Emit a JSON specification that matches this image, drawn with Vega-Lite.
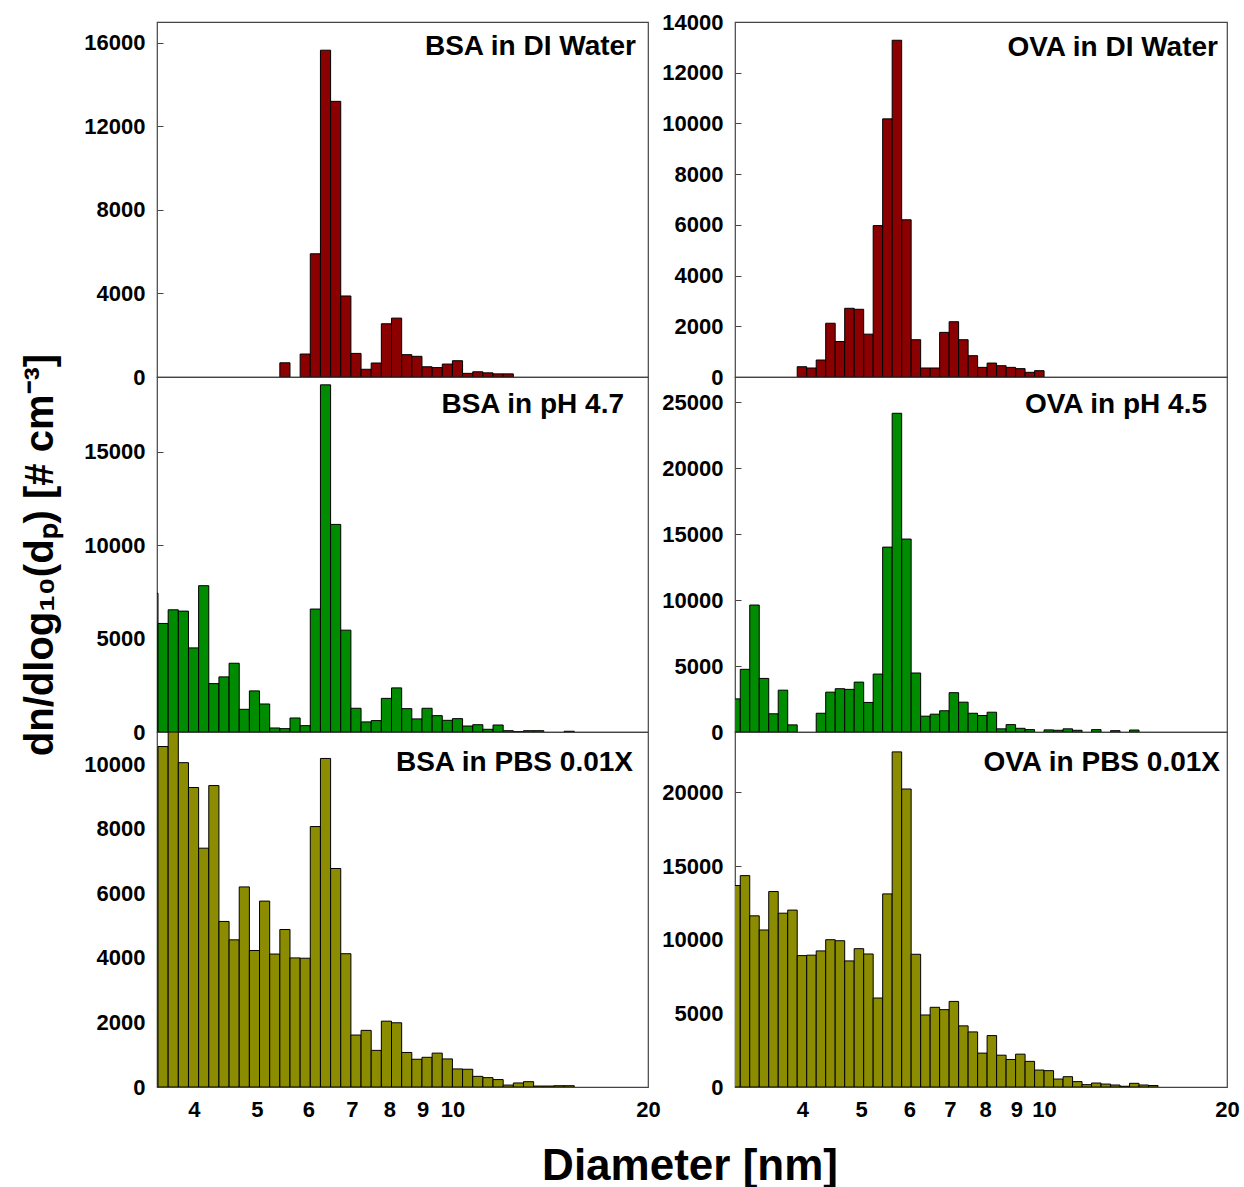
{
  "$schema": "https://vega.github.io/schema/vega-lite/v6.json",
  "background": "white",
  "padding": {"left": 20, "top": 10, "right": 5, "bottom": 5},
  "config": {
    "font": "Liberation Sans",
    "view": {"stroke": "#444444", "strokeWidth": 1.2},
    "axis": {"labelFont": "Liberation Sans", "labelFontWeight": "bold", "labelFontSize": 22, "labelColor": "black", "grid": false, "domain": false, "tickColor": "#444444", "titleFont": "Liberation Sans", "titleColor": "black"},
    "text": {"font": "Liberation Sans", "fontWeight": "bold", "fontSize": 28, "color": "black"}
  },
  "title": {"text": "Diameter [nm]", "orient": "bottom", "anchor": "middle", "fontSize": 44, "fontWeight": "bold", "font": "Liberation Sans", "color": "black", "offset": 24, "dx": 60},
  "datasets": {
    "d": [
      {"p":"bsa_di","lo":5.4247,"hi":5.6234,"v":680},
      {"p":"bsa_di","lo":5.8294,"hi":6.0430,"v":1100},
      {"p":"bsa_di","lo":6.0430,"hi":6.2643,"v":5900},
      {"p":"bsa_di","lo":6.2643,"hi":6.4938,"v":15650},
      {"p":"bsa_di","lo":6.4938,"hi":6.7317,"v":13200},
      {"p":"bsa_di","lo":6.7317,"hi":6.9783,"v":3880},
      {"p":"bsa_di","lo":6.9783,"hi":7.2339,"v":1130},
      {"p":"bsa_di","lo":7.2339,"hi":7.4989,"v":370},
      {"p":"bsa_di","lo":7.4989,"hi":7.7737,"v":670},
      {"p":"bsa_di","lo":7.7737,"hi":8.0584,"v":2550},
      {"p":"bsa_di","lo":8.0584,"hi":8.3536,"v":2820},
      {"p":"bsa_di","lo":8.3536,"hi":8.6596,"v":1070},
      {"p":"bsa_di","lo":8.6596,"hi":8.9769,"v":990},
      {"p":"bsa_di","lo":8.9769,"hi":9.3058,"v":490},
      {"p":"bsa_di","lo":9.3058,"hi":9.6466,"v":450},
      {"p":"bsa_di","lo":9.6466,"hi":10.0,"v":620},
      {"p":"bsa_di","lo":10.0,"hi":10.3663,"v":780},
      {"p":"bsa_di","lo":10.3663,"hi":10.7461,"v":175},
      {"p":"bsa_di","lo":10.7461,"hi":11.1397,"v":250},
      {"p":"bsa_di","lo":11.1397,"hi":11.5478,"v":200},
      {"p":"bsa_di","lo":11.5478,"hi":11.9709,"v":150},
      {"p":"bsa_di","lo":11.9709,"hi":12.4094,"v":150},

      {"p":"ova_di","lo":3.9242,"hi":4.0679,"v":405},
      {"p":"ova_di","lo":4.0679,"hi":4.2170,"v":355},
      {"p":"ova_di","lo":4.2170,"hi":4.3714,"v":670},
      {"p":"ova_di","lo":4.3714,"hi":4.5316,"v":2120},
      {"p":"ova_di","lo":4.5316,"hi":4.6976,"v":1400},
      {"p":"ova_di","lo":4.6976,"hi":4.8697,"v":2710},
      {"p":"ova_di","lo":4.8697,"hi":5.0481,"v":2670},
      {"p":"ova_di","lo":5.0481,"hi":5.2330,"v":1690},
      {"p":"ova_di","lo":5.2330,"hi":5.4247,"v":5970},
      {"p":"ova_di","lo":5.4247,"hi":5.6234,"v":10180},
      {"p":"ova_di","lo":5.6234,"hi":5.8294,"v":13280},
      {"p":"ova_di","lo":5.8294,"hi":6.0430,"v":6200},
      {"p":"ova_di","lo":6.0430,"hi":6.2643,"v":1470},
      {"p":"ova_di","lo":6.2643,"hi":6.4938,"v":355},
      {"p":"ova_di","lo":6.4938,"hi":6.7317,"v":355},
      {"p":"ova_di","lo":6.7317,"hi":6.9783,"v":1760},
      {"p":"ova_di","lo":6.9783,"hi":7.2339,"v":2180},
      {"p":"ova_di","lo":7.2339,"hi":7.4989,"v":1470},
      {"p":"ova_di","lo":7.4989,"hi":7.7737,"v":840},
      {"p":"ova_di","lo":7.7737,"hi":8.0584,"v":380},
      {"p":"ova_di","lo":8.0584,"hi":8.3536,"v":550},
      {"p":"ova_di","lo":8.3536,"hi":8.6596,"v":445},
      {"p":"ova_di","lo":8.6596,"hi":8.9769,"v":380},
      {"p":"ova_di","lo":8.9769,"hi":9.3058,"v":330},
      {"p":"ova_di","lo":9.3058,"hi":9.6466,"v":185},
      {"p":"ova_di","lo":9.6466,"hi":10.0,"v":250},

      {"p":"bsa_ph","lo":3.3982,"hi":3.5227,"v":7430},
      {"p":"bsa_ph","lo":3.5227,"hi":3.6517,"v":5810},
      {"p":"bsa_ph","lo":3.6517,"hi":3.7854,"v":6540},
      {"p":"bsa_ph","lo":3.7854,"hi":3.9242,"v":6470},
      {"p":"bsa_ph","lo":3.9242,"hi":4.0679,"v":4500},
      {"p":"bsa_ph","lo":4.0679,"hi":4.2170,"v":7830},
      {"p":"bsa_ph","lo":4.2170,"hi":4.3714,"v":2590},
      {"p":"bsa_ph","lo":4.3714,"hi":4.5316,"v":2950},
      {"p":"bsa_ph","lo":4.5316,"hi":4.6976,"v":3680},
      {"p":"bsa_ph","lo":4.6976,"hi":4.8697,"v":1215},
      {"p":"bsa_ph","lo":4.8697,"hi":5.0481,"v":2200},
      {"p":"bsa_ph","lo":5.0481,"hi":5.2330,"v":1500},
      {"p":"bsa_ph","lo":5.2330,"hi":5.4247,"v":215},
      {"p":"bsa_ph","lo":5.4247,"hi":5.6234,"v":180},
      {"p":"bsa_ph","lo":5.6234,"hi":5.8294,"v":750},
      {"p":"bsa_ph","lo":5.8294,"hi":6.0430,"v":340},
      {"p":"bsa_ph","lo":6.0430,"hi":6.2643,"v":6580},
      {"p":"bsa_ph","lo":6.2643,"hi":6.4938,"v":18580},
      {"p":"bsa_ph","lo":6.4938,"hi":6.7317,"v":11110},
      {"p":"bsa_ph","lo":6.7317,"hi":6.9783,"v":5450},
      {"p":"bsa_ph","lo":6.9783,"hi":7.2339,"v":1270},
      {"p":"bsa_ph","lo":7.2339,"hi":7.4989,"v":540},
      {"p":"bsa_ph","lo":7.4989,"hi":7.7737,"v":610},
      {"p":"bsa_ph","lo":7.7737,"hi":8.0584,"v":1800},
      {"p":"bsa_ph","lo":8.0584,"hi":8.3536,"v":2360},
      {"p":"bsa_ph","lo":8.3536,"hi":8.6596,"v":1250},
      {"p":"bsa_ph","lo":8.6596,"hi":8.9769,"v":700},
      {"p":"bsa_ph","lo":8.9769,"hi":9.3058,"v":1270},
      {"p":"bsa_ph","lo":9.3058,"hi":9.6466,"v":875},
      {"p":"bsa_ph","lo":9.6466,"hi":10.0,"v":625},
      {"p":"bsa_ph","lo":10.0,"hi":10.3663,"v":715},
      {"p":"bsa_ph","lo":10.3663,"hi":10.7461,"v":320},
      {"p":"bsa_ph","lo":10.7461,"hi":11.1397,"v":390},
      {"p":"bsa_ph","lo":11.1397,"hi":11.5478,"v":145},
      {"p":"bsa_ph","lo":11.5478,"hi":11.9709,"v":375},
      {"p":"bsa_ph","lo":11.9709,"hi":12.4094,"v":70},
      {"p":"bsa_ph","lo":12.4094,"hi":12.8640,"v":20},
      {"p":"bsa_ph","lo":12.8640,"hi":13.3352,"v":70},
      {"p":"bsa_ph","lo":13.3352,"hi":13.8237,"v":70},
      {"p":"bsa_ph","lo":14.8551,"hi":15.3993,"v":40},

      {"p":"ova_ph","lo":3.0505,"hi":3.1623,"v":2510},
      {"p":"ova_ph","lo":3.1623,"hi":3.2781,"v":4750},
      {"p":"ova_ph","lo":3.2781,"hi":3.3982,"v":9620},
      {"p":"ova_ph","lo":3.3982,"hi":3.5227,"v":4060},
      {"p":"ova_ph","lo":3.5227,"hi":3.6517,"v":1380},
      {"p":"ova_ph","lo":3.6517,"hi":3.7854,"v":3170},
      {"p":"ova_ph","lo":3.7854,"hi":3.9242,"v":540},
      {"p":"ova_ph","lo":4.2170,"hi":4.3714,"v":1420},
      {"p":"ova_ph","lo":4.3714,"hi":4.5316,"v":3020},
      {"p":"ova_ph","lo":4.5316,"hi":4.6976,"v":3280},
      {"p":"ova_ph","lo":4.6976,"hi":4.8697,"v":3230},
      {"p":"ova_ph","lo":4.8697,"hi":5.0481,"v":3780},
      {"p":"ova_ph","lo":5.0481,"hi":5.2330,"v":2240},
      {"p":"ova_ph","lo":5.2330,"hi":5.4247,"v":4390},
      {"p":"ova_ph","lo":5.4247,"hi":5.6234,"v":14010},
      {"p":"ova_ph","lo":5.6234,"hi":5.8294,"v":24150},
      {"p":"ova_ph","lo":5.8294,"hi":6.0430,"v":14620},
      {"p":"ova_ph","lo":6.0430,"hi":6.2643,"v":4470},
      {"p":"ova_ph","lo":6.2643,"hi":6.4938,"v":1200},
      {"p":"ova_ph","lo":6.4938,"hi":6.7317,"v":1350},
      {"p":"ova_ph","lo":6.7317,"hi":6.9783,"v":1610},
      {"p":"ova_ph","lo":6.9783,"hi":7.2339,"v":2980},
      {"p":"ova_ph","lo":7.2339,"hi":7.4989,"v":2260},
      {"p":"ova_ph","lo":7.4989,"hi":7.7737,"v":1420},
      {"p":"ova_ph","lo":7.7737,"hi":8.0584,"v":1250},
      {"p":"ova_ph","lo":8.0584,"hi":8.3536,"v":1500},
      {"p":"ova_ph","lo":8.3536,"hi":8.6596,"v":240},
      {"p":"ova_ph","lo":8.6596,"hi":8.9769,"v":560},
      {"p":"ova_ph","lo":8.9769,"hi":9.3058,"v":280},
      {"p":"ova_ph","lo":9.3058,"hi":9.6466,"v":180},
      {"p":"ova_ph","lo":10.0,"hi":10.3663,"v":160},
      {"p":"ova_ph","lo":10.3663,"hi":10.7461,"v":130},
      {"p":"ova_ph","lo":10.7461,"hi":11.1397,"v":240},
      {"p":"ova_ph","lo":11.1397,"hi":11.5478,"v":130},
      {"p":"ova_ph","lo":11.9709,"hi":12.4094,"v":180},
      {"p":"ova_ph","lo":12.8640,"hi":13.3352,"v":100},
      {"p":"ova_ph","lo":13.8237,"hi":14.3301,"v":150},

      {"p":"bsa_pbs","lo":3.5227,"hi":3.6517,"v":10550},
      {"p":"bsa_pbs","lo":3.6517,"hi":3.7854,"v":11000},
      {"p":"bsa_pbs","lo":3.7854,"hi":3.9242,"v":10050},
      {"p":"bsa_pbs","lo":3.9242,"hi":4.0679,"v":9280},
      {"p":"bsa_pbs","lo":4.0679,"hi":4.2170,"v":7400},
      {"p":"bsa_pbs","lo":4.2170,"hi":4.3714,"v":9340},
      {"p":"bsa_pbs","lo":4.3714,"hi":4.5316,"v":5130},
      {"p":"bsa_pbs","lo":4.5316,"hi":4.6976,"v":4560},
      {"p":"bsa_pbs","lo":4.6976,"hi":4.8697,"v":6200},
      {"p":"bsa_pbs","lo":4.8697,"hi":5.0481,"v":4230},
      {"p":"bsa_pbs","lo":5.0481,"hi":5.2330,"v":5760},
      {"p":"bsa_pbs","lo":5.2330,"hi":5.4247,"v":4120},
      {"p":"bsa_pbs","lo":5.4247,"hi":5.6234,"v":4880},
      {"p":"bsa_pbs","lo":5.6234,"hi":5.8294,"v":4000},
      {"p":"bsa_pbs","lo":5.8294,"hi":6.0430,"v":3990},
      {"p":"bsa_pbs","lo":6.0430,"hi":6.2643,"v":8070},
      {"p":"bsa_pbs","lo":6.2643,"hi":6.4938,"v":10180},
      {"p":"bsa_pbs","lo":6.4938,"hi":6.7317,"v":6770},
      {"p":"bsa_pbs","lo":6.7317,"hi":6.9783,"v":4130},
      {"p":"bsa_pbs","lo":6.9783,"hi":7.2339,"v":1610},
      {"p":"bsa_pbs","lo":7.2339,"hi":7.4989,"v":1755},
      {"p":"bsa_pbs","lo":7.4989,"hi":7.7737,"v":1135},
      {"p":"bsa_pbs","lo":7.7737,"hi":8.0584,"v":2040},
      {"p":"bsa_pbs","lo":8.0584,"hi":8.3536,"v":1990},
      {"p":"bsa_pbs","lo":8.3536,"hi":8.6596,"v":1070},
      {"p":"bsa_pbs","lo":8.6596,"hi":8.9769,"v":860},
      {"p":"bsa_pbs","lo":8.9769,"hi":9.3058,"v":920},
      {"p":"bsa_pbs","lo":9.3058,"hi":9.6466,"v":1050},
      {"p":"bsa_pbs","lo":9.6466,"hi":10.0,"v":870},
      {"p":"bsa_pbs","lo":10.0,"hi":10.3663,"v":560},
      {"p":"bsa_pbs","lo":10.3663,"hi":10.7461,"v":550},
      {"p":"bsa_pbs","lo":10.7461,"hi":11.1397,"v":330},
      {"p":"bsa_pbs","lo":11.1397,"hi":11.5478,"v":290},
      {"p":"bsa_pbs","lo":11.5478,"hi":11.9709,"v":230},
      {"p":"bsa_pbs","lo":11.9709,"hi":12.4094,"v":60},
      {"p":"bsa_pbs","lo":12.4094,"hi":12.8640,"v":125},
      {"p":"bsa_pbs","lo":12.8640,"hi":13.3352,"v":165},
      {"p":"bsa_pbs","lo":13.3352,"hi":13.8237,"v":30},
      {"p":"bsa_pbs","lo":13.8237,"hi":14.3301,"v":30},
      {"p":"bsa_pbs","lo":14.3301,"hi":14.8551,"v":40},
      {"p":"bsa_pbs","lo":14.8551,"hi":15.3993,"v":40},

      {"p":"ova_pbs","lo":3.0505,"hi":3.1623,"v":13680},
      {"p":"ova_pbs","lo":3.1623,"hi":3.2781,"v":14350},
      {"p":"ova_pbs","lo":3.2781,"hi":3.3982,"v":11620},
      {"p":"ova_pbs","lo":3.3982,"hi":3.5227,"v":10660},
      {"p":"ova_pbs","lo":3.5227,"hi":3.6517,"v":13270},
      {"p":"ova_pbs","lo":3.6517,"hi":3.7854,"v":11800},
      {"p":"ova_pbs","lo":3.7854,"hi":3.9242,"v":12010},
      {"p":"ova_pbs","lo":3.9242,"hi":4.0679,"v":8920},
      {"p":"ova_pbs","lo":4.0679,"hi":4.2170,"v":8950},
      {"p":"ova_pbs","lo":4.2170,"hi":4.3714,"v":9240},
      {"p":"ova_pbs","lo":4.3714,"hi":4.5316,"v":10000},
      {"p":"ova_pbs","lo":4.5316,"hi":4.6976,"v":9930},
      {"p":"ova_pbs","lo":4.6976,"hi":4.8697,"v":8560},
      {"p":"ova_pbs","lo":4.8697,"hi":5.0481,"v":9390},
      {"p":"ova_pbs","lo":5.0481,"hi":5.2330,"v":9030},
      {"p":"ova_pbs","lo":5.2330,"hi":5.4247,"v":6040},
      {"p":"ova_pbs","lo":5.4247,"hi":5.6234,"v":13110},
      {"p":"ova_pbs","lo":5.6234,"hi":5.8294,"v":22750},
      {"p":"ova_pbs","lo":5.8294,"hi":6.0430,"v":20230},
      {"p":"ova_pbs","lo":6.0430,"hi":6.2643,"v":9010},
      {"p":"ova_pbs","lo":6.2643,"hi":6.4938,"v":4890},
      {"p":"ova_pbs","lo":6.4938,"hi":6.7317,"v":5410},
      {"p":"ova_pbs","lo":6.7317,"hi":6.9783,"v":5250},
      {"p":"ova_pbs","lo":6.9783,"hi":7.2339,"v":5810},
      {"p":"ova_pbs","lo":7.2339,"hi":7.4989,"v":4150},
      {"p":"ova_pbs","lo":7.4989,"hi":7.7737,"v":3740},
      {"p":"ova_pbs","lo":7.7737,"hi":8.0584,"v":2300},
      {"p":"ova_pbs","lo":8.0584,"hi":8.3536,"v":3490},
      {"p":"ova_pbs","lo":8.3536,"hi":8.6596,"v":2160},
      {"p":"ova_pbs","lo":8.6596,"hi":8.9769,"v":1870},
      {"p":"ova_pbs","lo":8.9769,"hi":9.3058,"v":2230},
      {"p":"ova_pbs","lo":9.3058,"hi":9.6466,"v":1740},
      {"p":"ova_pbs","lo":9.6466,"hi":10.0,"v":1150},
      {"p":"ova_pbs","lo":10.0,"hi":10.3663,"v":1110},
      {"p":"ova_pbs","lo":10.3663,"hi":10.7461,"v":540},
      {"p":"ova_pbs","lo":10.7461,"hi":11.1397,"v":700},
      {"p":"ova_pbs","lo":11.1397,"hi":11.5478,"v":365},
      {"p":"ova_pbs","lo":11.5478,"hi":11.9709,"v":160},
      {"p":"ova_pbs","lo":11.9709,"hi":12.4094,"v":270},
      {"p":"ova_pbs","lo":12.4094,"hi":12.8640,"v":200},
      {"p":"ova_pbs","lo":12.8640,"hi":13.3352,"v":135},
      {"p":"ova_pbs","lo":13.3352,"hi":13.8237,"v":50},
      {"p":"ova_pbs","lo":13.8237,"hi":14.3301,"v":250},
      {"p":"ova_pbs","lo":14.3301,"hi":14.8551,"v":135},
      {"p":"ova_pbs","lo":14.8551,"hi":15.3993,"v":100}
    ]
  },
  "columns": 2,
  "spacing": {"row": 0, "column": 87},
  "bounds": "flush",
  "concat": [
    {
      "width": 491, "height": 355,
      "layer": [
        {
          "data": {"name": "d"},
          "transform": [{"filter": {"field": "p", "equal": "bsa_di"}}],
          "mark": {"type": "bar", "fill": "#8B0000", "stroke": "black", "strokeWidth": 1, "clip": true},
          "encoding": {
            "x": {"field": "lo", "type": "quantitative", "scale": {"type": "log", "domain": [3.51, 20], "nice": false}, "axis": {"title": null, "labels": false, "ticks": false}},
            "x2": {"field": "hi"},
            "y": {"field": "v", "type": "quantitative", "scale": {"domain": [0, 17000], "nice": false}, "axis": {"title": null, "values": [0, 4000, 8000, 12000, 16000], "format": "d", "tickSize": -6, "labelPadding": 18}},
            "y2": {"datum": 0}
          }
        },
        {
          "data": {"values": [{"label": "BSA in DI Water"}]},
          "mark": {"type": "text", "align": "right", "baseline": "middle", "dx": -12, "dy": 25},
          "encoding": {"x": {"datum": 20, "type": "quantitative"}, "y": {"datum": 17000, "type": "quantitative"}, "text": {"field": "label"}}
        }
      ]
    },
    {
      "width": 492, "height": 355,
      "layer": [
        {
          "data": {"name": "d"},
          "transform": [{"filter": {"field": "p", "equal": "ova_di"}}],
          "mark": {"type": "bar", "fill": "#8B0000", "stroke": "black", "strokeWidth": 1, "clip": true},
          "encoding": {
            "x": {"field": "lo", "type": "quantitative", "scale": {"type": "log", "domain": [3.1, 20], "nice": false}, "axis": {"title": null, "labels": false, "ticks": false}},
            "x2": {"field": "hi"},
            "y": {"field": "v", "type": "quantitative", "scale": {"domain": [0, 14000], "nice": false}, "axis": {"title": null, "values": [0, 2000, 4000, 6000, 8000, 10000, 12000, 14000], "format": "d", "tickSize": -6, "labelPadding": 18}},
            "y2": {"datum": 0}
          }
        },
        {
          "data": {"values": [{"label": "OVA in DI Water"}]},
          "mark": {"type": "text", "align": "right", "baseline": "middle", "dx": -9, "dy": 26},
          "encoding": {"x": {"datum": 20, "type": "quantitative"}, "y": {"datum": 14000, "type": "quantitative"}, "text": {"field": "label"}}
        }
      ]
    },
    {
      "width": 491, "height": 355,
      "layer": [
        {
          "data": {"name": "d"},
          "transform": [{"filter": {"field": "p", "equal": "bsa_ph"}}],
          "mark": {"type": "bar", "fill": "#008C00", "stroke": "black", "strokeWidth": 1, "clip": true},
          "encoding": {
            "x": {"field": "lo", "type": "quantitative", "scale": {"type": "log", "domain": [3.51, 20], "nice": false}, "axis": {"title": null, "labels": false, "ticks": false}},
            "x2": {"field": "hi"},
            "y": {"field": "v", "type": "quantitative", "scale": {"domain": [0, 19000], "nice": false}, "axis": {"title": "dn/dlog₁₀(dₚ) [# cm⁻³]", "titleFontSize": 40, "titleFontWeight": "bold", "titlePadding": 23, "values": [0, 5000, 10000, 15000], "format": "d", "tickSize": -6, "labelPadding": 18}},
            "y2": {"datum": 0}
          }
        },
        {
          "data": {"values": [{"label": "BSA in pH 4.7"}]},
          "mark": {"type": "text", "align": "right", "baseline": "middle", "dx": -24, "dy": 28},
          "encoding": {"x": {"datum": 20, "type": "quantitative"}, "y": {"datum": 19000, "type": "quantitative"}, "text": {"field": "label"}}
        }
      ]
    },
    {
      "width": 492, "height": 355,
      "layer": [
        {
          "data": {"name": "d"},
          "transform": [{"filter": {"field": "p", "equal": "ova_ph"}}],
          "mark": {"type": "bar", "fill": "#008C00", "stroke": "black", "strokeWidth": 1, "clip": true},
          "encoding": {
            "x": {"field": "lo", "type": "quantitative", "scale": {"type": "log", "domain": [3.1, 20], "nice": false}, "axis": {"title": null, "labels": false, "ticks": false}},
            "x2": {"field": "hi"},
            "y": {"field": "v", "type": "quantitative", "scale": {"domain": [0, 26900], "nice": false}, "axis": {"title": null, "values": [0, 5000, 10000, 15000, 20000, 25000], "format": "d", "tickSize": -6, "labelPadding": 18}},
            "y2": {"datum": 0}
          }
        },
        {
          "data": {"values": [{"label": "OVA in pH 4.5"}]},
          "mark": {"type": "text", "align": "right", "baseline": "middle", "dx": -20, "dy": 28},
          "encoding": {"x": {"datum": 20, "type": "quantitative"}, "y": {"datum": 26900, "type": "quantitative"}, "text": {"field": "label"}}
        }
      ]
    },
    {
      "width": 491, "height": 355,
      "layer": [
        {
          "data": {"name": "d"},
          "transform": [{"filter": {"field": "p", "equal": "bsa_pbs"}}],
          "mark": {"type": "bar", "fill": "#8C8C00", "stroke": "black", "strokeWidth": 1, "clip": true},
          "encoding": {
            "x": {"field": "lo", "type": "quantitative", "scale": {"type": "log", "domain": [3.51, 20], "nice": false}, "axis": {"title": null, "values": [4, 5, 6, 7, 8, 9, 10, 20], "format": "d", "ticks": false, "labelPadding": 12, "labelFlush": false, "labelOverlap": false, "labelBound": false}},
            "x2": {"field": "hi"},
            "y": {"field": "v", "type": "quantitative", "scale": {"domain": [0, 11000], "nice": false}, "axis": {"title": null, "values": [0, 2000, 4000, 6000, 8000, 10000], "format": "d", "tickSize": -6, "labelPadding": 18}},
            "y2": {"datum": 0}
          }
        },
        {
          "data": {"values": [{"label": "BSA in PBS 0.01X"}]},
          "mark": {"type": "text", "align": "right", "baseline": "middle", "dx": -15, "dy": 31},
          "encoding": {"x": {"datum": 20, "type": "quantitative"}, "y": {"datum": 11000, "type": "quantitative"}, "text": {"field": "label"}}
        }
      ]
    },
    {
      "width": 492, "height": 355,
      "layer": [
        {
          "data": {"name": "d"},
          "transform": [{"filter": {"field": "p", "equal": "ova_pbs"}}],
          "mark": {"type": "bar", "fill": "#8C8C00", "stroke": "black", "strokeWidth": 1, "clip": true},
          "encoding": {
            "x": {"field": "lo", "type": "quantitative", "scale": {"type": "log", "domain": [3.1, 20], "nice": false}, "axis": {"title": null, "values": [4, 5, 6, 7, 8, 9, 10, 20], "format": "d", "ticks": false, "labelPadding": 12, "labelFlush": false, "labelOverlap": false, "labelBound": false}},
            "x2": {"field": "hi"},
            "y": {"field": "v", "type": "quantitative", "scale": {"domain": [0, 24100], "nice": false}, "axis": {"title": null, "values": [0, 5000, 10000, 15000, 20000], "format": "d", "tickSize": -6, "labelPadding": 18}},
            "y2": {"datum": 0}
          }
        },
        {
          "data": {"values": [{"label": "OVA in PBS 0.01X"}]},
          "mark": {"type": "text", "align": "right", "baseline": "middle", "dx": -7, "dy": 31},
          "encoding": {"x": {"datum": 20, "type": "quantitative"}, "y": {"datum": 24100, "type": "quantitative"}, "text": {"field": "label"}}
        }
      ]
    }
  ]
}
